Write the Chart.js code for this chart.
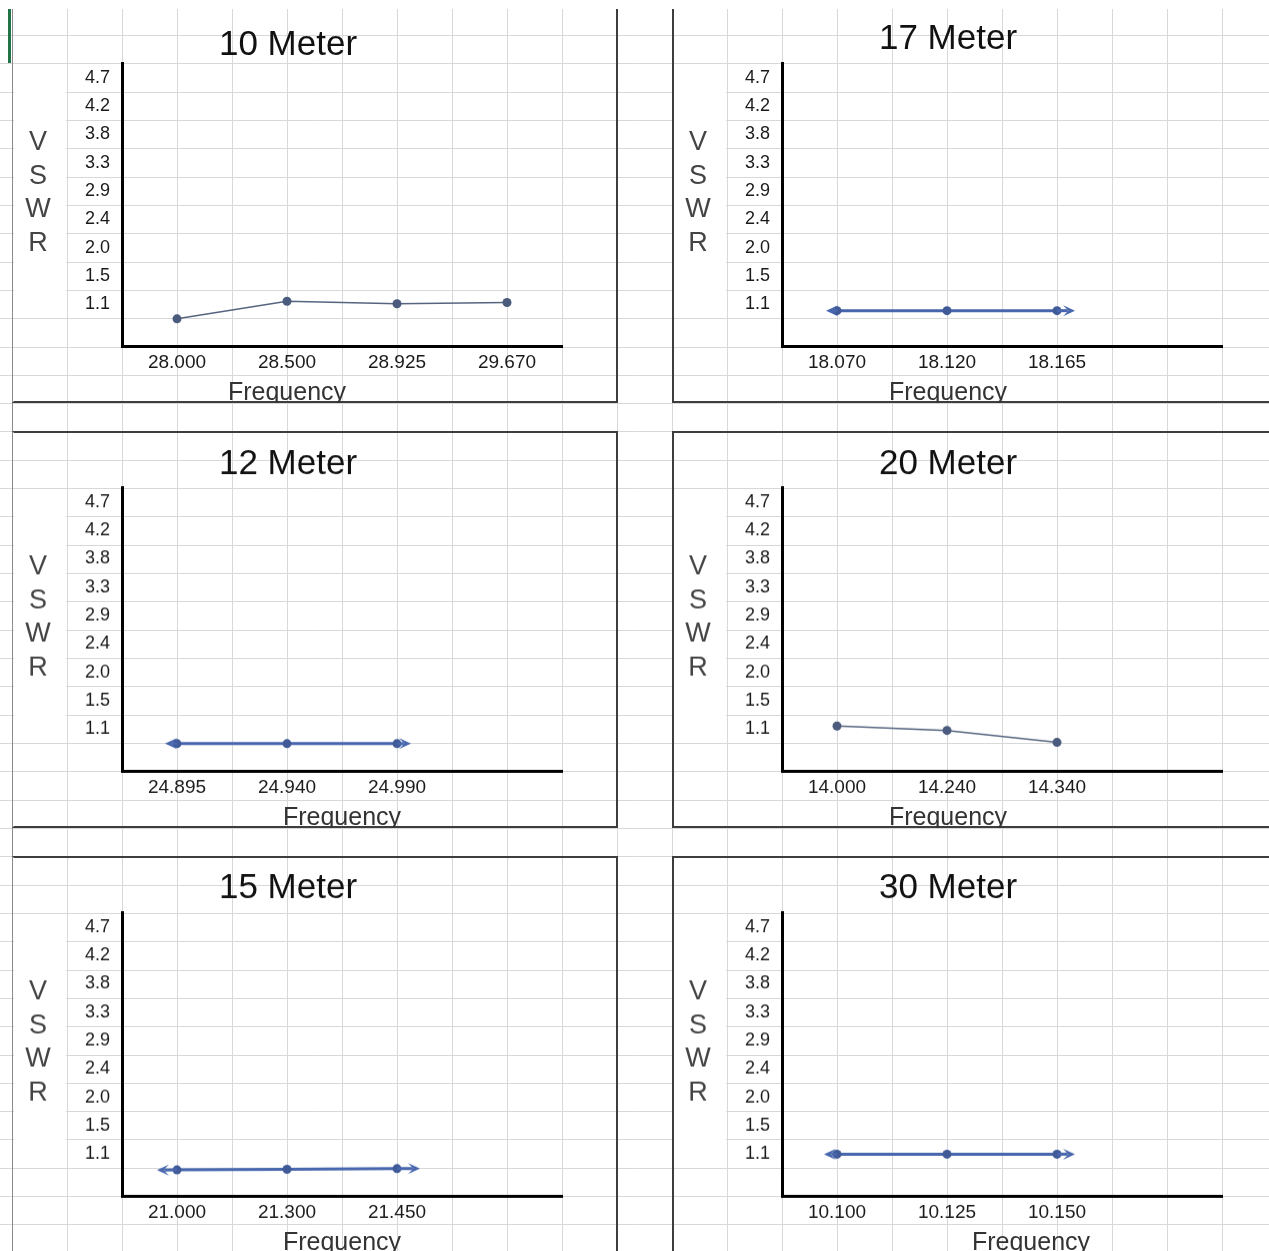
<!DOCTYPE html>
<html>
<head>
<meta charset="utf-8">
<script src="https://cdn.jsdelivr.net/npm/chart.js@4.4.1/dist/chart.umd.min.js"></script>
<style>
  html, body { margin: 0; padding: 0; background: #fff; }
  body { width: 1269px; height: 1251px; overflow: hidden; position: relative; }
  #sheet { position: absolute; left: 0; top: 0; }
  .frame { position: absolute; box-sizing: border-box; border: 2px solid #3d3d3d; }
  .box { position: absolute; }
  #topStrip { position: absolute; left: 0; top: 0; width: 1269px; height: 9px; background: #fff; z-index: 5; }
  #cellMark { position: absolute; left: 8px; top: 9px; width: 3px; height: 54px; background: #217346; z-index: 6; }
</style>
</head>
<body>
<canvas id="sheet" width="1269" height="1251"></canvas>
<div id="topStrip"></div>
<div id="cellMark"></div>

<script>
// Werte (VSWR je Band)
const freq10 = ['28.000', '28.500', '28.925', '29.670'];
const vswr10 = [0.87, 1.15, 1.11, 1.13];

const freq17 = ['18.070', '18.120', '18.165', ''];
const vswr17 = [1.0, 1.0, 1.0, null];

const freq12 = ['24.895', '24.940', '24.990', ''];
const vswr12 = [0.87, 0.87, 0.87, null];

const freq20 = ['14.000', '14.240', '14.340', ''];
const vswr20 = [1.15, 1.08, 0.89, null];

const freq15 = ['21.000', '21.300', '21.450', ''];
const vswr15 = [0.85, 0.86, 0.87, null];

const freq30 = ['10.100', '10.125', '10.150', ''];
const vswr30 = [1.1, 1.1, 1.1, null];

// Achsenbeschriftung links (so wie im Blatt)
const yTicks = [1.1, 1.55, 2.0, 2.45, 2.9, 3.35, 3.8, 4.25, 4.7];
const yTickLabels = ['1.1', '1.5', '2.0', '2.4', '2.9', '3.3', '3.8', '4.2', '4.7'];

// Raster der Tabelle
const COL0 = 12, COL = 55;
const ROW0 = 63.3, ROW = 28.32;
const FRAME_W = 606, FRAME_H = 14 * ROW;
const FONT = "'Liberation Sans', Arial, sans-serif";

const charts = [
  { title: '10 Meter', labels: freq10, values: vswr10, side: 0, row: 0, thick: false, titleY: 48.3, freqX: 275 },
  { title: '17 Meter', labels: freq17, values: vswr17, side: 1, row: 0, thick: true, arrows: [11, 18], titleY: 41.6, freqX: 276 },
  { title: '12 Meter', labels: freq12, values: vswr12, side: 0, row: 1, thick: true, arrows: [12, 14], titleY: 42.5, freqX: 330 },
  { title: '20 Meter', labels: freq20, values: vswr20, side: 1, row: 1, thick: false, titleY: 42.5, freqX: 276 },
  { title: '15 Meter', labels: freq15, values: vswr15, side: 0, row: 2, thick: true, arrows: [20, 23], titleY: 41.7, freqX: 330 },
  { title: '30 Meter', labels: freq30, values: vswr30, side: 1, row: 2, thick: true, arrows: [13, 18], titleY: 41.7, freqX: 359 }
];

// Hintergrund: Gitter der Tabelle
function drawSheet() {
  const c = document.getElementById('sheet');
  const g = c.getContext('2d');
  g.fillStyle = '#fff';
  g.fillRect(0, 0, c.width, c.height);
  g.strokeStyle = '#d8d8d8';
  g.lineWidth = 1;
  g.beginPath();
  for (let x = COL0; x < c.width; x += COL) {
    g.moveTo(x + 0.5, 0); g.lineTo(x + 0.5, c.height);
  }
  for (let k = -3; ROW0 + k * ROW < c.height; k++) {
    const y = Math.round(ROW0 + k * ROW) + 0.5;
    g.moveTo(0, y); g.lineTo(c.width, y);
  }
  g.stroke();
  g.strokeStyle = '#8a8a8a';
  g.beginPath();
  g.moveTo(COL0 + 0.5, 0); g.lineTo(COL0 + 0.5, c.height);
  g.stroke();
  // weisses Feld hinter "VSWR"
  g.fillStyle = '#fff';
  for (const cfg of charts) {
    const fx = cfg.side === 0 ? COL0 : COL0 + 12 * COL;
    const fy = ROW0 + ROW * (-2 + 15 * cfg.row);
    g.fillRect(fx + 2, Math.round(fy + 2 * ROW) + 1, COL - 3, Math.round(9 * ROW) - 1);
  }
}

// Texte wie im Excel-Blatt: Titel, "Frequency", senkrechtes "VSWR"
const sheetText = {
  id: 'sheetText',
  afterDraw(chart, args, opts) {
    const ctx = chart.ctx;
    ctx.save();
    ctx.textAlign = 'center';
    ctx.textBaseline = 'alphabetic';
    ctx.fillStyle = '#111';
    ctx.font = '35px ' + FONT;
    ctx.fillText(opts.title, 276, opts.titleY);
    ctx.fillStyle = '#333';
    ctx.font = '25px ' + FONT;
    ctx.fillText('Frequency', opts.freqX, 393.3);
    ctx.fillStyle = '#444';
    ctx.font = '27px ' + FONT;
    ['V', 'S', 'W', 'R'].forEach((ch, i) => ctx.fillText(ch, 26, 143.3 + i * 33.4));
    ctx.restore();
  }
};

function drawArrow(ctx, from, toward, len) {
  const dx = from.x - toward.x, dy = from.y - toward.y;
  const d = Math.hypot(dx, dy) || 1;
  const ux = dx / d, uy = dy / d;
  const tx = from.x + ux * len, ty = from.y + uy * len;
  const hl = 12, hw = 5.5;
  ctx.beginPath();
  ctx.moveTo(from.x, from.y);
  ctx.lineTo(tx - ux * hl * 0.6, ty - uy * hl * 0.6);
  ctx.stroke();
  ctx.beginPath();
  ctx.moveTo(tx, ty);
  ctx.lineTo(tx - ux * hl - uy * hw, ty - uy * hl + ux * hw);
  ctx.lineTo(tx - ux * hl * 0.55, ty - uy * hl * 0.55);
  ctx.lineTo(tx - ux * hl + uy * hw, ty - uy * hl - ux * hw);
  ctx.closePath();
  ctx.fill();
}

// Pfeilspitzen an beiden Enden der Linie
const arrowEnds = {
  id: 'arrowEnds',
  afterDatasetsDraw(chart, args, opts) {
    if (!opts.lengths) return;
    const pts = chart.getDatasetMeta(0).data.filter(p => !p.skip);
    if (pts.length < 2) return;
    const ctx = chart.ctx;
    ctx.save();
    ctx.strokeStyle = opts.color;
    ctx.fillStyle = opts.color;
    ctx.lineWidth = 3;
    drawArrow(ctx, pts[0], pts[1], opts.lengths[0]);
    drawArrow(ctx, pts[pts.length - 1], pts[pts.length - 2], opts.lengths[1]);
    ctx.restore();
  }
};

function makeChart(cfg) {
  const fx = cfg.side === 0 ? COL0 : COL0 + 12 * COL;
  const fy = ROW0 + ROW * (-2 + 15 * cfg.row);

  const frame = document.createElement('div');
  frame.className = 'frame';
  Object.assign(frame.style, { left: fx + 'px', top: fy + 'px', width: FRAME_W + 'px', height: FRAME_H + 'px' });
  if (cfg.side === 0) frame.style.borderLeftColor = 'transparent';
  document.body.appendChild(frame);

  const box = document.createElement('div');
  box.className = 'box';
  Object.assign(box.style, { left: fx + 'px', top: fy + 'px', width: FRAME_W + 'px', height: FRAME_H + 'px' });
  const canvas = document.createElement('canvas');
  box.appendChild(canvas);
  document.body.appendChild(box);

  const lineColor = cfg.thick ? '#4766ad' : '#56657f';
  const dotColor = cfg.thick ? '#3f5a97' : '#4a5b7e';

  return new Chart(canvas, {
    type: 'line',
    data: {
      labels: cfg.labels,
      datasets: [{
        data: cfg.values,
        borderColor: lineColor,
        borderWidth: cfg.thick ? 3 : 1.5,
        pointRadius: 4.5,
        pointBorderWidth: 0,
        pointBackgroundColor: dotColor,
        tension: 0,
        fill: false
      }]
    },
    options: {
      responsive: true,
      maintainAspectRatio: false,
      animation: false,
      layout: {
        padding: { left: 50, top: 2 * ROW, right: FRAME_W - 110 - 440, bottom: FRAME_H - 12 * ROW - 40 }
      },
      plugins: {
        legend: { display: false },
        tooltip: { enabled: false },
        title: { display: false },
        sheetText: { title: cfg.title, titleY: cfg.titleY, freqX: cfg.freqX },
        arrowEnds: { lengths: cfg.arrows || null, color: lineColor }
      },
      scales: {
        x: {
          type: 'category',
          offset: true,
          grid: { display: false, drawTicks: false },
          border: { display: true, color: '#000', width: 3 },
          ticks: { font: { family: FONT, size: 19 }, color: '#1a1a1a', padding: 5, autoSkip: false, maxRotation: 0 },
          afterFit: s => { s.height = 40; }
        },
        y: {
          min: 0.425,
          max: 4.925,
          grid: { display: false, drawTicks: false },
          border: { display: true, color: '#000', width: 3 },
          afterBuildTicks: s => { s.ticks = yTicks.map(v => ({ value: v })); },
          ticks: {
            font: { family: FONT, size: 18 },
            color: '#1a1a1a',
            padding: 12,
            callback: v => yTickLabels[yTicks.indexOf(v)]
          },
          afterFit: s => { s.width = 60; }
        }
      }
    },
    plugins: [sheetText, arrowEnds]
  });
}

drawSheet();
charts.forEach(makeChart);
</script>
</body>
</html>
